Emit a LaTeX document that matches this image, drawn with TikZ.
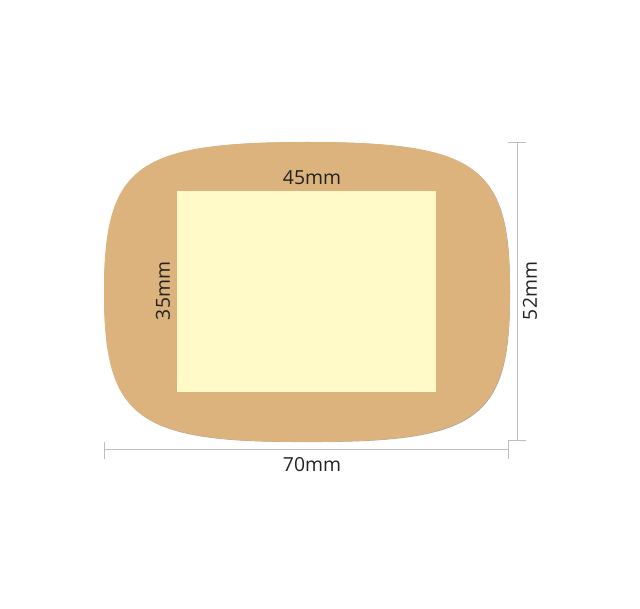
\documentclass[tikz,border=0pt]{standalone}
\usepackage{fontspec}
\setmainfont{Open Sans}
\usetikzlibrary{positioning}

\definecolor{padbrown}{RGB}{220,178,125}
\definecolor{padshadow}{RGB}{170,165,160}
\definecolor{labelyellow}{RGB}{255,250,200}
\definecolor{labelshadow}{RGB}{185,160,120}
\definecolor{dimgrey}{RGB}{190,190,190}
\definecolor{dimtext}{RGB}{34,34,34}

\begin{document}
\begin{tikzpicture}[x=0.75pt,y=-0.75pt,
  dim line/.style={draw=dimgrey,line width=0.75pt},
  dim text/.style={font=\fontsize{14.5}{17}\selectfont,text=dimtext,inner sep=0pt}]
  \useasboundingbox (0,0) rectangle (640,609);

  % pad outline (superellipse-like)
  \coordinate (top) at (307,142);
  \coordinate (right) at (510,292);
  \coordinate (bottom) at (307,442);
  \coordinate (left) at (104,292);

  \fill[padshadow,xshift=0.6pt,yshift=-0.6pt] (top) .. controls (478,142) and (510,165.5) .. (right)
    .. controls (510,418.5) and (478,442) .. (bottom)
    .. controls (136,442) and (104,418.5) .. (left)
    .. controls (104,165.5) and (136,142) .. cycle;
  \fill[padbrown] (top) .. controls (478,142) and (510,165.5) .. (right)
    .. controls (510,418.5) and (478,442) .. (bottom)
    .. controls (136,442) and (104,418.5) .. (left)
    .. controls (104,165.5) and (136,142) .. cycle;

  % label area
  \coordinate (label nw) at (177,191);
  \coordinate (label se) at (436,392);
  \fill[labelshadow,xshift=0.75pt,yshift=-0.75pt] (label nw) rectangle (label se);
  \fill[labelyellow] (label nw) rectangle (label se);

  \node[dim text] (w45) at (312,178) {45mm};
  \node[dim text,rotate=90] (h35) at (163,291) {35mm};

  % overall width
  \coordinate (w1) at (104,450);
  \coordinate (w2) at (508,450);
  \coordinate (w1 up) at (104,442);
  \coordinate (w1 down) at (104,459);
  \coordinate (w2 up) at (508,441);
  \coordinate (w2 down) at (508,459);
  \draw[dim line] (w1) -- (w2);
  \draw[dim line] (w1 up) -- (w1 down);
  \draw[dim line] (w2 up) -- (w2 down);
  \node[dim text] (w70) at (312,465) {70mm};

  % overall height
  \coordinate (h1) at (517,143);
  \coordinate (h2) at (517,441);
  \coordinate (h1 left) at (508,143);
  \coordinate (h1 right) at (526,143);
  \coordinate (h2 left) at (508,441);
  \coordinate (h2 right) at (526,441);
  \draw[dim line] (h1) -- (h2);
  \draw[dim line] (h1 left) -- (h1 right);
  \draw[dim line] (h2 left) -- (h2 right);
  \node[dim text,rotate=90] (h52) at (530,291) {52mm};

\end{tikzpicture}
\end{document}
